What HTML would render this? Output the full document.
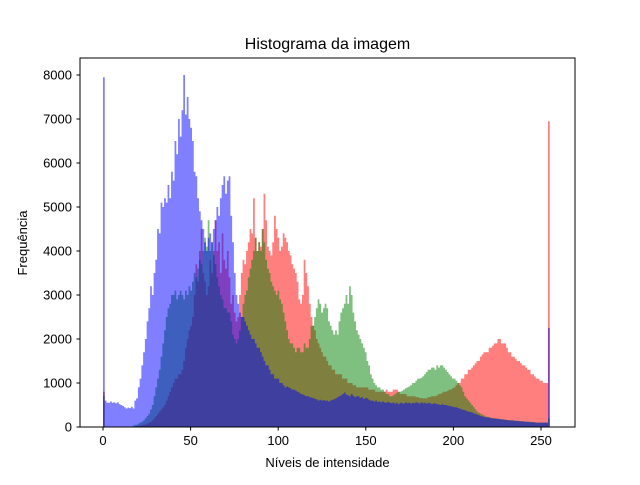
<!DOCTYPE html>
<html><head><meta charset="utf-8"><style>
body{margin:0;background:#fff;font-family:"Liberation Sans","DejaVu Sans",sans-serif;}
</style></head><body>
<svg id="chart" width="640" height="480" xmlns="http://www.w3.org/2000/svg">
<rect width="640" height="480" fill="#fff"/>
<text x="327.5" y="49" text-anchor="middle" font-size="16" font-family="Liberation Sans, DejaVu Sans, sans-serif">Histograma da imagem</text>
<text x="327.5" y="467" text-anchor="middle" font-size="13" font-family="Liberation Sans, DejaVu Sans, sans-serif">Níveis de intensidade</text>
<text transform="translate(27,243) rotate(-90)" text-anchor="middle" font-size="13" font-family="Liberation Sans, DejaVu Sans, sans-serif">Frequência</text>
<g id="bars"></g>
<g id="ticks"></g>
<rect x="80" y="58" width="495" height="369" fill="none" stroke="#000" stroke-width="1"/>
</svg>
<script>
const binCount = 256;
const xTicks = [0,50,100,150,200,250];
const yTicks = [0,1000,2000,3000,4000,5000,6000,7000,8000];
const blueVals = [79.5,6,5.5,5.5,5.8,5.5,5.6,5.4,5.6,5.2,5,4.8,4.5,4.2,4.4,4.3,
4.6,4.2,6,6.5,9,11,14,17,20,24,27,32,30,35,
38,45,44,51,50,52,51,55,52,58,56,65,62,70,66,72,80,71,75,70,
68,65,58,57,52,49,47,45,42,40,43,44,42,45,47,50,48,52,55,57,53,56,57,48,42,35,30,28,26,25,
25,24,23,22,21,20,20,19,18,18,17,16,15,14,14,13,12,12,11,11,
11,10,10,9.5,9,9.2,9,8.8,8.5,8.5,8.3,8,7.8,7.5,7.4,7.2,7,7,6.8,6.7,6.6,6.4,6.3,6,6.2,6,6.1,6,6,5.8,
6,6.2,6.3,6.5,6.8,7,7.2,7.5,7.8,7.4,7.2,7,7.5,7.1,6.8,7,7,6.6,6.8,6.4,6.6,6.5,6.2,6,6,5.8,6,5.7,5.8,5.6,
5.8,5.6,5.5,5.7,5.5,5.4,5.6,5.3,5.5,5.2,5.5,5.4,5.3,5.6,5.4,5.5,5.3,5.5,5.4,5.6,5.5,5.3,5.6,5.4,5.5,5.3,5.5,5.4,5.2,5.4,
5.3,5.2,5.1,5,5.2,5,5,4.9,4.8,4.7,4.6,4.5,4.5,4.3,4.2,4,3.9,3.8,3.6,3.5,3.4,3.3,3.1,3,2.8,2.7,2.5,2.4,2.3,2.2,
2.2,2.1,2,2,1.9,1.9,1.8,1.8,1.7,1.7,1.6,1.6,1.5,1.5,1.5,1.4,1.4,1.4,1.3,1.3,1.3,1.2,1.2,1.2,1.1,1.1,1.1,1,1,1,1,1,1,1,1,22.5];
const greenVals = [7,0,0,0,0,0,0,0,0,0,0,0,0,0,0,0,0,
0.3,0.5,0.5,0.8,1,1.2,1.5,2,2.5,3,4,5,7,
9,11,13,16,19,22,25,27,28,30,30,31,29,30,31,30,29,31,30,32,
31,33,35,34,36,38,37,40,43,41,47,40,42,39,37,34,32,30,29,27,
27,26,26,24,21,20,19,20,22,25,28,30,31,34,36,38,40,43,40,42,40,45,42,38,36,35,33,32,31,30,
31,29,28,26,24,22,20,19,19,18,17,18,18,17,17,19,18,18,20,23,23,25,27,29,28,26,27,28,27,24,
23,22,21,22,21,24,26,27,28,30,28,32,30,26,24,22,21,20,19,18,17,15,14,12,11,10,9.5,9,9,8.5,
8.5,8,7.5,7.5,7,7,7.2,7.5,7.8,8,8,8.2,8.5,8.8,9,9.2,9.5,10,10,10.5,11,11,11.2,11.5,12,12.5,13,13,13.5,13.5,
13,14,13.5,14,14,13.5,13,12.5,12,11.5,11,11,10.5,10,9.5,9,8,7,6.5,6,5.5,5,4.5,4,3.5,3.2,3,2.8,2.6,2.4,
2.3,2.2,2.1,2,2,1.9,1.9,1.8,1.8,1.7,1.7,1.6,1.6,1.5,1.5,1.5,1.4,1.4,1.4,1.3,1.3,1.3,1.2,1.2,1.2,1.1,1.1,1.1,1,1,1,1,1,1,1,2];
const redVals = [8,0,0,0,0,0,0,0,0,0,0,0,0,0,0,0,0,
0.1,0.1,0.2,
0.2,0.3,0.4,0.5,0.6,0.8,1,1.2,1.5,2,
2.5,3,3.5,4,4.5,5,6,7,8,9,
10,11,11,12,12,13,15,18,20,22,
23,25,30,37,33,40,45,35,33,30,
32,38,35,40,47,40,42,35,44,38,
36,40,34,28,30,26,24,25,30,35,38,37,40,42,45,44,52,43,40,42,41,45,53,47,41,40,39,42,48,45,
43,40,41,44,43,42,40,39,37,36,35,33,29,28,30,38,35,32,28,25,23,22,20,19,18,17,16,16,15,14,
14,13,13,12,12,12,12,11,11,11,10,10,10,9.5,9.5,9,9,9,9,9,9,9,8.5,8.5,8.5,8.5,8,8,8,8,
8,8,8.5,8,8,8,8.5,8.5,8.5,8,7.5,7.5,7.5,7.5,7,7,7,7,7,6.8,6.8,6.6,6.6,6.5,6.5,6.5,6.8,6.8,7,7,
7,7.2,7.5,7.5,7.8,8,8,8.2,8.5,8.5,8.8,9,9.5,10,10,11,11,12,12,13,13,13.5,14,14.5,15,15,16,16.5,17,17,
17,18,18,18.5,19,19,20,20,19,19,19,18,17,17,16,16,15.5,15,15,14.5,14,14,13.5,13,13,12,12,11.5,11,11,10.5,10.5,10,10,10,69.5];
const NS="http://www.w3.org/2000/svg";
const x0=103, pxPerUnit=438/250, y0=427, pxPerCount=352/8000;
function xScale(v){return x0+v*pxPerUnit;}
function yScale(v){return y0-v*pxPerCount;}
const binW=255/256;
const bars=document.getElementById('bars');
function drawSeries(vals,color,name){
  const g=document.createElementNS(NS,'g');
  
  
  g.setAttribute('fill',color);g.setAttribute('fill-opacity','0.5');
  let d='';
  for(let i=0;i<vals.length;i++){
    const v=vals[i]*100; if(v<=0) continue;
    const xl=xScale(i*binW), xr=xScale((i+1)*binW), yt=yScale(v);
    d+=`M${xl.toFixed(2)},${y0}V${yt.toFixed(2)}H${xr.toFixed(2)}V${y0}Z`;
  }
  const p=document.createElementNS(NS,'path');
  p.setAttribute('d',d);
  
  
  g.appendChild(p);bars.appendChild(g);
}
drawSeries(redVals,'#ff0000','red-histogram');
drawSeries(greenVals,'#008000','green-histogram');
drawSeries(blueVals,'#0000ff','blue-histogram');
const ticks=document.getElementById('ticks');
xTicks.forEach(t=>{
  const x=xScale(t);
  const l=document.createElementNS(NS,'line');
  l.setAttribute('x1',x);l.setAttribute('x2',x);l.setAttribute('y1',427);l.setAttribute('y2',430.5);l.setAttribute('stroke','#000');
  
  
  ticks.appendChild(l);
  const tx=document.createElementNS(NS,'text');
  tx.setAttribute('x',x);tx.setAttribute('y',445);tx.setAttribute('text-anchor','middle');tx.setAttribute('font-size','13');
  tx.textContent=t;
  
  
  ticks.appendChild(tx);
});
yTicks.forEach(t=>{
  const y=yScale(t);
  const l=document.createElementNS(NS,'line');
  l.setAttribute('x1',76.5);l.setAttribute('x2',80);l.setAttribute('y1',y);l.setAttribute('y2',y);l.setAttribute('stroke','#000');
  
  
  ticks.appendChild(l);
  const tx=document.createElementNS(NS,'text');
  tx.setAttribute('x',72);tx.setAttribute('y',y+4.5);tx.setAttribute('text-anchor','end');tx.setAttribute('font-size','13');
  tx.textContent=t;
  
  
  ticks.appendChild(tx);
});
</script>
</body></html>
